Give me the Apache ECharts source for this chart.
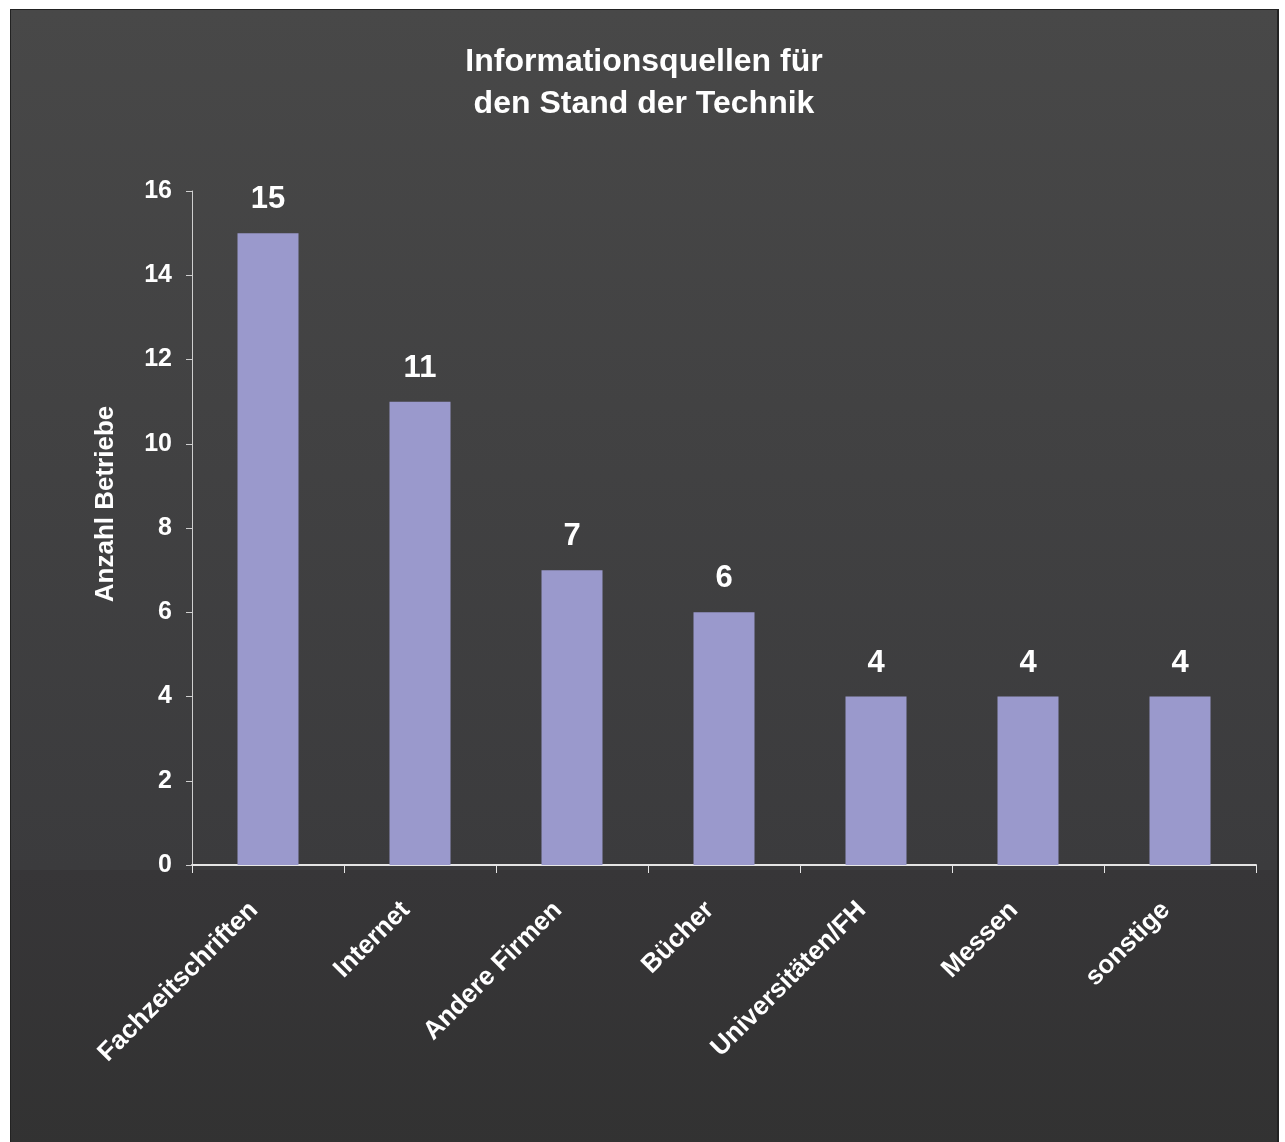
<!DOCTYPE html>
<html>
<head>
<meta charset="utf-8">
<script src="https://cdn.jsdelivr.net/npm/echarts@6/dist/echarts.min.js"></script>
<style>
  html, body { margin: 0; padding: 0; background: #ffffff; }
  #frame {
    position: absolute; left: 10px; top: 9px; width: 1266px; height: 1140px;
    border: 1px solid #222; border-right-width: 2px;
    background: linear-gradient(to bottom, #484848 0%, #3b3b3d 75.4%, #373638 75.4%, #323232 100%);
  }
  #chart { position: absolute; left: 0; top: 0; width: 1266px; height: 1140px; }
</style>
</head>
<body>
<div id="frame"><div id="chart"></div></div>
<script>
// Informationsquellen für den Stand der Technik – Anzahl Betriebe je Quelle
const categories = ['Fachzeitschriften', 'Internet', 'Andere Firmen', 'Bücher', 'Universitäten/FH', 'Messen', 'sonstige'];
const values = [15, 11, 7, 6, 4, 4, 4];
const yTicks = [0, 2, 4, 6, 8, 10, 12, 14, 16];

const font = '"Liberation Sans", Arial, sans-serif';
const chart = echarts.init(document.getElementById('chart'), null, { renderer: 'canvas' });

chart.setOption({
  backgroundColor: 'transparent',
  animation: false,
  title: {
    text: 'Informationsquellen für\nden Stand der Technik',
    left: 'center',
    top: 26,
    textStyle: { color: '#ffffff', fontFamily: font, fontWeight: 'bold', fontSize: 32, lineHeight: 42 }
  },
  grid: { left: 181, top: 181, width: 1064, height: 674, containLabel: false },
  xAxis: {
    type: 'category',
    data: categories,
    axisLine: { lineStyle: { color: '#e6e6e6', width: 2 } },
    axisTick: { show: true, alignWithLabel: false, length: 8, lineStyle: { color: '#e6e6e6', width: 1 } },
    axisLabel: {
      rotate: 45, margin: 27, padding: [0, 20, 0, 0], color: '#ffffff',
      fontFamily: font, fontWeight: 'bold', fontSize: 26, interval: 0
    }
  },
  yAxis: {
    type: 'value',
    min: yTicks[0], max: yTicks[yTicks.length - 1], interval: 2,
    axisLine: { show: true, lineStyle: { color: '#cfcfcf', width: 1 } },
    axisTick: { show: true, length: 6, lineStyle: { color: '#cfcfcf' } },
    splitLine: { show: false },
    axisLabel: { margin: 20, color: '#ffffff', fontFamily: font, fontWeight: 'bold', fontSize: 25 }
  },
  graphic: [{
    type: 'text',
    x: 95, y: 494,
    rotation: Math.PI / 2,
    style: {
      text: 'Anzahl Betriebe', fill: '#ffffff',
      font: 'bold 26px "Liberation Sans", Arial, sans-serif',
      textAlign: 'center', textVerticalAlign: 'middle'
    }
  }],
  series: [{
    type: 'bar',
    data: values,
    barWidth: 61,
    itemStyle: { color: '#9a99cc' },
    label: {
      show: true, position: 'top', distance: 18, color: '#ffffff',
      fontFamily: font, fontWeight: 'bold', fontSize: 31
    }
  }]
});
</script>
</body>
</html>
